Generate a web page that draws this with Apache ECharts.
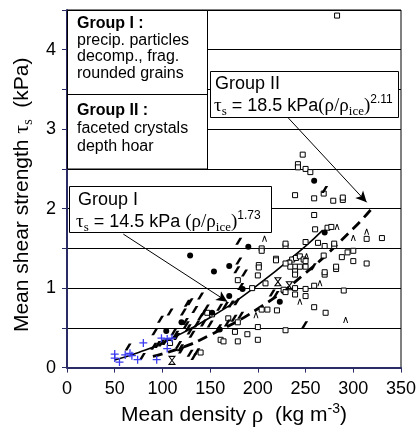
<!DOCTYPE html>
<html><head><meta charset="utf-8">
<script src="https://cdn.jsdelivr.net/npm/echarts/dist/echarts.min.js"></script>
<style>html,body{margin:0;padding:0;background:#fff}#c{width:420px;height:432px}</style>
</head><body><div id="c"></div>
<script>
// ---- data (density kg m^-3, shear strength kPa) ----
const squares = [
 [283,4.43],
 [247,2.68],[242,2.56],[242,2.52],[250,2.50],[255,2.46],
 [239,2.17],[259,2.13],[269,2.19],[279,2.10],[289,2.11],[289,2.14],
 [259,1.92],
 [260,1.74],[273,1.76],[277,1.77],
 [314,1.62],[330,1.63],
 [263,1.57],[270,1.53],[280,1.53],[280,1.56],[229,1.53],[229,1.56],[250,1.58],[204,1.50],[204,1.47],[219,1.37],[219,1.35],
 [236,1.36],[240,1.38],[244,1.40],[248,1.36],
 [269,1.41],[288,1.39],[294,1.45],[300,1.47],[300,1.34],[314,1.31],[282,1.24],[282,1.27],[270,1.17],[270,1.20],
 [233,1.32],[239,1.27],[244,1.27],[239,1.21],[239,1.17],[250,1.34],[250,1.27],[234,1.27],[229,1.31],
 [201,1.29],[201,1.26],[200,1.16],[179,1.10],[208,1.06],[194,1.00],
 [259,1.03],[290,0.97],[227,0.98],[229,0.95],[239,1.00],[239,0.92],[250,0.99],[250,0.90],[259,0.76],[271,0.69],
 [204,0.73],[210,0.73],[220,0.72],[169,0.62],[179,0.57],[200,0.51],[229,0.47],[176,0.45],[189,0.42],[179,0.33],
 [200,0.35],[161,0.35],[164,0.33],[147,0.69],[152,0.67],[140,0.19],[108,0.31]
];
const dots = [[259,2.35],[270,1.70],[190,1.52],[129,1.41],[170,1.28],[154,1.21],[184,0.99],[170,0.90],[223,0.83],[160,0.48],[152,0.69],[120,0.57],[104,0.46]];
const carets = [[207,1.62],[283,1.77],[300,1.63],[314,1.71],[251,1.40],[265,1.06],[244,0.83],[292,0.60],[198,0.66]];
const hourglasses = [[110,0.09],[221,1.08],[233,1.03]];
const pluses = [[50,0.17],[50,0.12],[55,0.07],[61,0.16],[66,0.18],[68,0.15],[74,0.10],[80,0.31],[94,0.10],[99,0.37],[105,0.36],[110,0.37],[105,0.24]];
const slashes = [
 [64,0.26],[79,0.14],[92,0.45],[98,0.61],[108,0.70],[91,0.27],[95,0.29],[99,0.31],[103,0.33],[112,0.45],[114,0.42],[115,0.39],
 [117,0.29],[119,0.25],[120,0.22],[122,0.70],[124,0.58],[125,0.54],[126,0.81],[129,0.83],[127,0.50],[129,0.46],[131,0.42],
 [129,0.18],[133,0.14],[136,0.20],[134,0.73],[136,0.55],[140,0.64],[140,0.90],[143,0.69],[143,0.56],[146,0.75],[150,0.55],
 [159,0.50],[160,0.76],[166,0.78],[168,0.56],[172,0.80],[175,0.62],[178,0.83],[182,0.66],[180,1.59],[180,1.34],[178,1.23],
 [186,1.19],[182,1.02],[215,0.94],[219,0.92],[258,1.27],[249,0.54],[270,2.24]
];
const fitGroupI = [[50,0.095],[75,0.19],[100,0.31],[150,0.63],[200,1.04],[250,1.53],[268,1.73]];
const fitGroupII = [[90,0.14],[120,0.25],[150,0.41],[200,0.74],[250,1.19],[300,1.75],[320,2.01]];
const arrowI = [[59,1.68],[168,0.83]];
const arrowII = [[232,3.14],[314,2.08]];
const xTicks = {min:0, max:350, step:50};
const yTicks = {min:0, max:4.5, step:0.5};

const SANS = '"Liberation Sans", Arial, sans-serif';
const SERIF = '"Liberation Serif", "Times New Roman", serif';
const AX = '#2b2b66';

const formulaRich = {
  n:{fontFamily:SANS,fontSize:18,lineHeight:24,fill:'#000',color:'#000'},
  g:{fontFamily:SERIF,fontSize:19,lineHeight:24,fill:'#000',color:'#000'},
  s:{fontFamily:SERIF,fontSize:13,lineHeight:13,verticalAlign:'bottom',fill:'#000',color:'#000'},
  p:{fontFamily:SANS,fontSize:12,lineHeight:12,verticalAlign:'top',fill:'#000',color:'#000'}
};
function txt(x,y,t,bold){return {type:'text',z:102,x:x,y:y,style:{text:t,font:(bold?'bold ':'')+'16px '+SANS,fill:'#000',verticalAlign:'middle',textVerticalAlign:'middle'}};}
function rtxt(x,y,t){return {type:'text',z:102,x:x,y:y,style:{text:t,rich:formulaRich,fill:'#000',verticalAlign:'middle',textVerticalAlign:'middle'}};}

const chart = echarts.init(document.getElementById('c'));
chart.setOption({
  animation:false,
  backgroundColor:'#fff',
  grid:{left:67,right:19,top:10,bottom:64,show:true,borderColor:'#000',borderWidth:1},
  xAxis:{type:'value',min:xTicks.min,max:xTicks.max,interval:xTicks.step,
    name:'{a|Mean density }{t|ρ}{a|  (kg m}{p|-3}{a|)}',nameLocation:'middle',nameGap:31,
    nameTextStyle:{rich:{a:{fontFamily:SANS,fontSize:21,lineHeight:26,color:'#000'},t:{fontFamily:SERIF,fontSize:23,lineHeight:26,color:'#000'},p:{fontFamily:SANS,fontSize:14,lineHeight:13,verticalAlign:'top',color:'#000'}}},
    axisLine:{lineStyle:{color:AX,width:2}},axisTick:{show:true,length:5,lineStyle:{color:AX}},
    axisLabel:{fontFamily:SANS,fontSize:18,color:'#000',margin:12},splitLine:{show:false}},
  yAxis:{type:'value',min:yTicks.min,max:yTicks.max,interval:yTicks.step,
    name:'{a|Mean shear strength }{t|τ}{s|s}{a|  (kPa)}',nameLocation:'middle',nameGap:29,nameRotate:90,
    nameTextStyle:{padding:[0,0,0,-12],rich:{a:{fontFamily:SANS,fontSize:21,lineHeight:26,color:'#000'},t:{fontFamily:SERIF,fontSize:22,lineHeight:26,color:'#000'},s:{fontFamily:SERIF,fontSize:14,lineHeight:13,verticalAlign:'bottom',color:'#000'}}},
    axisLine:{show:true,lineStyle:{color:AX,width:2}},axisTick:{show:true,length:5,lineStyle:{color:AX}},
    axisLabel:{fontFamily:SANS,fontSize:18,color:'#000',margin:11,formatter:v=>(Math.abs(v%1)<1e-9?String(v):'')},
    splitLine:{show:true,lineStyle:{color:'#000',width:1}}},
  series:[
    {type:'line',data:fitGroupI,smooth:true,showSymbol:false,silent:true,z:3,lineStyle:{color:'#000',width:1.6},
      markLine:{silent:true,symbol:['none','arrow'],symbolSize:[8,11],label:{show:false},lineStyle:{color:'#000',width:1,type:'solid'},
        data:[[{coord:arrowI[0]},{coord:arrowI[1]}],[{coord:arrowII[0]},{coord:arrowII[1]}]]}},
    {type:'line',data:fitGroupII,smooth:true,showSymbol:false,silent:true,z:3,lineStyle:{color:'#000',width:2.8,type:[10,6]}},
    {type:'scatter',data:squares,symbol:'rect',symbolSize:5,z:4,itemStyle:{color:'#fff',borderColor:'#000',borderWidth:1,opacity:1}},
    {type:'scatter',data:dots,symbol:'circle',symbolSize:6,z:4,itemStyle:{color:'#000',opacity:1}},
    {type:'scatter',data:slashes,symbol:'path://M0,10 L4,10 L10,0 L6,0 Z',symbolSize:[7,7],z:4,itemStyle:{color:'#000',opacity:1}},
    {type:'scatter',data:carets,symbol:'path://M0,10 L4,0 L6,0 L10,10 L8,10 L5,2.5 L2,10 Z',symbolSize:[5,6],z:4,itemStyle:{color:'#000',opacity:1}},
    {type:'scatter',data:hourglasses,symbol:'path://M0,0 L10,0 L0,10 L10,10 Z',symbolSize:[6,8],z:4,itemStyle:{color:'rgba(0,0,0,0)',borderColor:'#000',borderWidth:1,opacity:1}},
    {type:'scatter',data:pluses,symbol:'path://M4.2,0 L5.8,0 L5.8,4.2 L10,4.2 L10,5.8 L5.8,5.8 L5.8,10 L4.2,10 L4.2,5.8 L0,5.8 L0,4.2 L4.2,4.2 Z',symbolSize:8,z:4,itemStyle:{color:'#3a3af0',opacity:1}}
  ],
  graphic:[
    {type:'rect',z:100,shape:{x:67.5,y:10.5,width:140,height:158.5},style:{fill:'#fff',stroke:'#000',lineWidth:1}},
    {type:'line',z:101,shape:{x1:67,y1:94.5,x2:207.5,y2:94.5},style:{stroke:'#000',lineWidth:1}},
    txt(77,24,'Group I :',true),
    txt(77,41,'precip. particles'),
    txt(77,57,'decomp., frag.'),
    txt(77,74,'rounded grains'),
    txt(77,111,'Group II :',true),
    txt(77,129,'faceted crystals'),
    txt(77,147,'depth hoar'),
    {type:'rect',z:100,shape:{x:210.5,y:71.5,width:188,height:46},style:{fill:'#fff',stroke:'#000',lineWidth:1}},
    rtxt(215,84,'{n|Group II}'),
    rtxt(214,106,'{g|τ}{s|s}{n| = 18.5 kPa}{g|(ρ/ρ}{s|ice}{g|)}{p|2.11}'),
    {type:'rect',z:100,shape:{x:69.5,y:186.5,width:202,height:46},style:{fill:'#fff',stroke:'#000',lineWidth:1}},
    rtxt(78,200,'{n|Group I}'),
    rtxt(76,222,'{g|τ}{s|s}{n| = 14.5 kPa }{g|(ρ/ρ}{s|ice}{g|)}{p|1.73}')
  ]
});
</script></body></html>
